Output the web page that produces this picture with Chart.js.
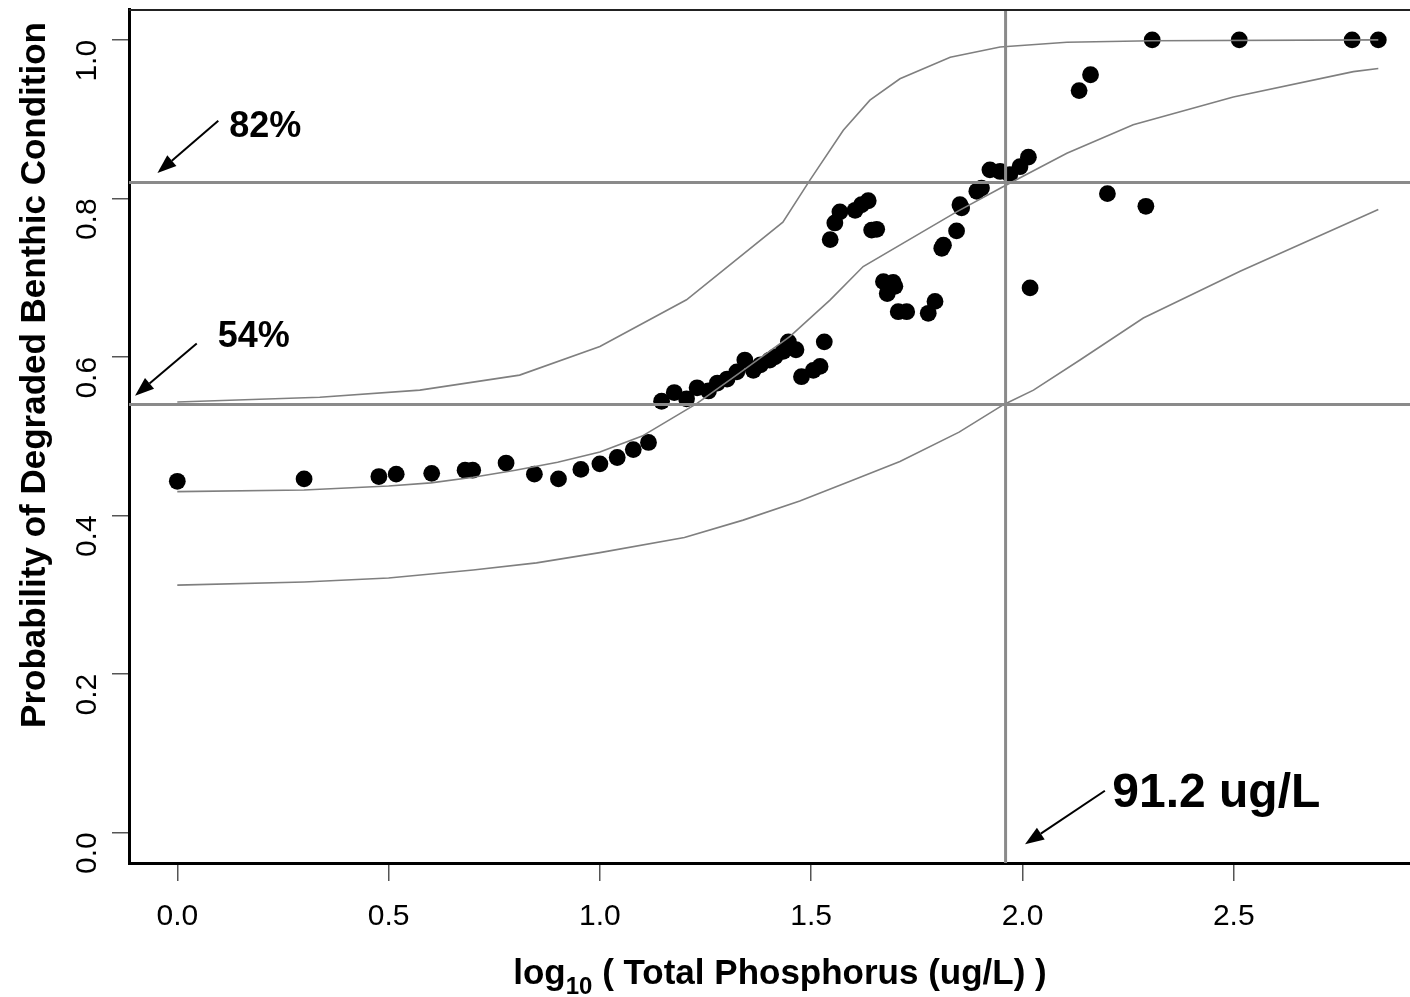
<!DOCTYPE html>
<html>
<head>
<meta charset="utf-8">
<script src="https://cdn.jsdelivr.net/npm/chart.js@4.4.1/dist/chart.umd.min.js"></script>
<style>
  html, body { margin: 0; padding: 0; background: #fff; overflow: hidden; }
  #wrap { width: 1410px; height: 997px; position: relative; }
</style>
</head>
<body>
<div id="wrap"><canvas id="chart" width="1410" height="997"></canvas></div>
<script>
// Observed sites: log10 total phosphorus vs. probability of degraded benthic condition
const logTP = [0.000, 0.300, 0.477, 0.518, 0.602, 0.681, 0.699, 0.778, 0.845, 0.902,
  0.955, 1.000, 1.041, 1.079, 1.115, 1.146, 1.176, 1.205, 1.230, 1.257,
  1.278, 1.301, 1.324, 1.343, 1.363, 1.380, 1.402, 1.414, 1.434, 1.446,
  1.464, 1.477, 1.505, 1.521, 1.531, 1.545, 1.556, 1.568, 1.604, 1.619,
  1.635, 1.643, 1.655, 1.671, 1.680, 1.694, 1.698, 1.706, 1.726, 1.777,
  1.793, 1.809, 1.813, 1.844, 1.852, 1.856, 1.892, 1.903, 1.923, 1.947,
  1.970, 1.994, 2.014, 2.018, 2.134, 2.161, 2.201, 2.292, 2.307, 2.513,
  2.780, 2.842];
const probDegraded = [0.443, 0.446, 0.449, 0.452, 0.453, 0.457, 0.457, 0.466, 0.452, 0.446,
  0.458, 0.465, 0.473, 0.483, 0.492, 0.544, 0.555, 0.547, 0.561, 0.557,
  0.567, 0.572, 0.581, 0.596, 0.583, 0.590, 0.596, 0.600, 0.607, 0.619,
  0.609, 0.575, 0.583, 0.588, 0.619, 0.748, 0.769, 0.783, 0.785, 0.792,
  0.797, 0.760, 0.761, 0.695, 0.680, 0.694, 0.689, 0.657, 0.657, 0.655,
  0.670, 0.737, 0.741, 0.759, 0.792, 0.788, 0.809, 0.813, 0.836, 0.834,
  0.830, 0.840, 0.852, 0.687, 0.936, 0.956, 0.806, 0.790, 1.000, 1.000,
  1.000, 1.000];

// Fitted curve and its upper / lower bands
const fitX = [0.000, 0.300, 0.500, 0.600, 0.700, 0.800, 0.900, 1.000, 1.100, 1.229,
  1.339, 1.450, 1.545, 1.623, 1.844, 1.955, 2.105, 2.262, 2.499, 2.783, 2.842];
const fitY = [0.430, 0.432, 0.437, 0.441, 0.448, 0.457, 0.467, 0.480, 0.500, 0.541,
  0.583, 0.626, 0.672, 0.714, 0.783, 0.815, 0.857, 0.893, 0.928, 0.960, 0.964];
const upperX = [0.000, 0.337, 0.574, 0.810, 1.000, 1.205, 1.433, 1.497, 1.576, 1.639,
  1.710, 1.829, 1.947, 2.105, 2.307, 2.842];
const upperY = [0.543, 0.549, 0.558, 0.577, 0.613, 0.672, 0.770, 0.823, 0.886, 0.924,
  0.951, 0.978, 0.991, 0.997, 0.999, 1.000];
const lowerX = [0.000, 0.300, 0.500, 0.700, 0.850, 1.000, 1.200, 1.339, 1.473, 1.592,
  1.710, 1.850, 1.956, 2.026, 2.136, 2.286, 2.515, 2.842];
const lowerY = [0.312, 0.316, 0.321, 0.331, 0.340, 0.353, 0.372, 0.394, 0.418, 0.443,
  0.468, 0.505, 0.540, 0.558, 0.596, 0.649, 0.708, 0.786];

// Thresholds
const thresholdTP = 91.2;          // ug/L
const probLevels = [0.82, 0.54];   // probability reference levels

// Axis ticks and range
const xTicks = [0.0, 0.5, 1.0, 1.5, 2.0, 2.5];
const yTicks = [0.0, 0.2, 0.4, 0.6, 0.8, 1.0];
const xRange = [-0.1143, 2.917];
const yRange = [-0.0387, 1.039];

const FONT = '"Liberation Sans", Arial, Helvetica, sans-serif';

const pts = (xs, ys) => xs.map((x, i) => ({ x: x, y: ys[i] }));
const thresholdX = Math.log10(thresholdTP);

// Callout labels with arrows, positioned in data units
const callouts = [
  { text: probLevels[0] * 100 + '%', size: 36, tx: 0.123, ty: 0.877, from: [0.097, 0.898], to: [-0.047, 0.832] },
  { text: probLevels[1] * 100 + '%', size: 36, tx: 0.0956, ty: 0.613, from: [0.046, 0.617], to: [-0.100, 0.551] },
  { text: thresholdTP.toFixed(1) + ' ug/L', size: 48, tx: 2.2125, ty: 0.0323, from: [2.195, 0.0525], to: [2.006, -0.015] }
];

function arrow(ctx, x1, y1, x2, y2) {
  const ang = Math.atan2(y2 - y1, x2 - x1);
  const len = 19, half = 7;
  const bx = x2 - len * Math.cos(ang), by = y2 - len * Math.sin(ang);
  ctx.beginPath();
  ctx.moveTo(x1, y1);
  ctx.lineTo(bx, by);
  ctx.stroke();
  ctx.beginPath();
  ctx.moveTo(x2, y2);
  ctx.lineTo(bx + half * Math.sin(ang), by - half * Math.cos(ang));
  ctx.lineTo(bx - half * Math.sin(ang), by + half * Math.cos(ang));
  ctx.closePath();
  ctx.fill();
}

const decorations = {
  id: 'decorations',
  afterDatasetsDraw(chart) {
    const ctx = chart.ctx, xs = chart.scales.x, ys = chart.scales.y, a = chart.chartArea;
    ctx.save();
    // top frame line
    ctx.strokeStyle = '#222';
    ctx.lineWidth = 2;
    ctx.beginPath();
    ctx.moveTo(a.left, a.top + 1);
    ctx.lineTo(a.right, a.top + 1);
    ctx.stroke();

    // callouts
    ctx.fillStyle = '#000';
    ctx.strokeStyle = '#000';
    ctx.lineWidth = 2;
    callouts.forEach(c => {
      arrow(ctx, xs.getPixelForValue(c.from[0]), ys.getPixelForValue(c.from[1]),
                 xs.getPixelForValue(c.to[0]), ys.getPixelForValue(c.to[1]));
      ctx.font = 'bold ' + c.size + 'px ' + FONT;
      ctx.textAlign = 'left';
      ctx.textBaseline = 'alphabetic';
      ctx.fillText(c.text, xs.getPixelForValue(c.tx), ys.getPixelForValue(c.ty));
    });
    ctx.restore();
  },
  afterDraw(chart) {
    const ctx = chart.ctx;
    ctx.save();
    ctx.fillStyle = '#000';
    // y-axis title
    ctx.font = 'bold 35px ' + FONT;
    ctx.translate(35, 375);
    ctx.rotate(-Math.PI / 2);
    ctx.textAlign = 'center';
    ctx.textBaseline = 'middle';
    ctx.fillText('Probability of Degraded Benthic Condition', 0, 0);
    ctx.restore();

    // x-axis title with subscript
    ctx.save();
    ctx.fillStyle = '#000';
    ctx.textBaseline = 'alphabetic';
    ctx.textAlign = 'left';
    const big = 'bold 35px ' + FONT, small = 'bold 24px ' + FONT;
    const p1 = 'log', p2 = '10', p3 = ' ( Total Phosphorus (ug/L) )';
    ctx.font = big; const w1 = ctx.measureText(p1).width, w3 = ctx.measureText(p3).width;
    ctx.font = small; const w2 = ctx.measureText(p2).width;
    let x = 780 - (w1 + w2 + w3) / 2;
    const base = 984;
    ctx.font = big; ctx.fillText(p1, x, base); x += w1;
    ctx.font = small; ctx.fillText(p2, x, base + 10); x += w2;
    ctx.font = big; ctx.fillText(p3, x, base);
    ctx.restore();
  }
};

const GRAY = '#8a8a8a';
const curveStyle = { showLine: true, pointRadius: 0, borderColor: '#7f7f7f', borderWidth: 1.6, fill: false, tension: 0, order: 1 };
const refStyle = { showLine: true, pointRadius: 0, borderColor: GRAY, borderWidth: 3, fill: false, tension: 0, order: 0 };

new Chart(document.getElementById('chart'), {
  type: 'scatter',
  data: {
    datasets: [
      { label: 'sites', data: pts(logTP, probDegraded), pointRadius: 8.4, pointBackgroundColor: '#000',
        pointBorderWidth: 0, pointBorderColor: '#000', showLine: false, order: 5 },
      Object.assign({ label: 'fit', data: pts(fitX, fitY) }, curveStyle),
      Object.assign({ label: 'upper', data: pts(upperX, upperY) }, curveStyle),
      Object.assign({ label: 'lower', data: pts(lowerX, lowerY) }, curveStyle),
      Object.assign({ label: 'p82', data: [{ x: xRange[0], y: probLevels[0] }, { x: xRange[1], y: probLevels[0] }] }, refStyle),
      Object.assign({ label: 'p54', data: [{ x: xRange[0], y: probLevels[1] }, { x: xRange[1], y: probLevels[1] }] }, refStyle),
      Object.assign({ label: 'tp', data: [{ x: thresholdX, y: yRange[0] }, { x: thresholdX, y: yRange[1] }] }, refStyle)
    ]
  },
  options: {
    responsive: false,
    animation: false,
    devicePixelRatio: 1,
    layout: { autoPadding: false, padding: { left: 0, right: 0, top: 9, bottom: 0 } },
    plugins: { legend: { display: false }, tooltip: { enabled: false } },
    scales: {
      x: {
        type: 'linear', min: xRange[0], max: xRange[1],
        afterBuildTicks: s => { s.ticks = xTicks.map(v => ({ value: v })); },
        afterFit: s => { s.height = 134; s.paddingLeft = 0; s.paddingRight = 0; },
        ticks: { callback: v => Number(v).toFixed(1), color: '#000', font: { family: FONT, size: 30 },
                 padding: 18, autoSkip: false, maxRotation: 0, minRotation: 0 },
        grid: { drawOnChartArea: false, drawTicks: true, tickLength: 18, color: '#555', lineWidth: 1.5 },
        border: { display: true, color: '#000', width: 3 }
      },
      y: {
        type: 'linear', min: yRange[0], max: yRange[1],
        afterBuildTicks: s => { s.ticks = yTicks.map(v => ({ value: v })); },
        afterFit: s => { s.width = 129; s.paddingTop = 0; s.paddingBottom = 0; },
        ticks: { callback: v => Number(v).toFixed(1), color: '#000', font: { family: FONT, size: 30 },
                 padding: 24, autoSkip: false, minRotation: 90, maxRotation: 90 },
        grid: { drawOnChartArea: false, drawTicks: true, tickLength: 17, color: '#555', lineWidth: 1.5 },
        border: { display: true, color: '#000', width: 3 }
      }
    }
  },
  plugins: [decorations]
});
</script>
</body>
</html>
